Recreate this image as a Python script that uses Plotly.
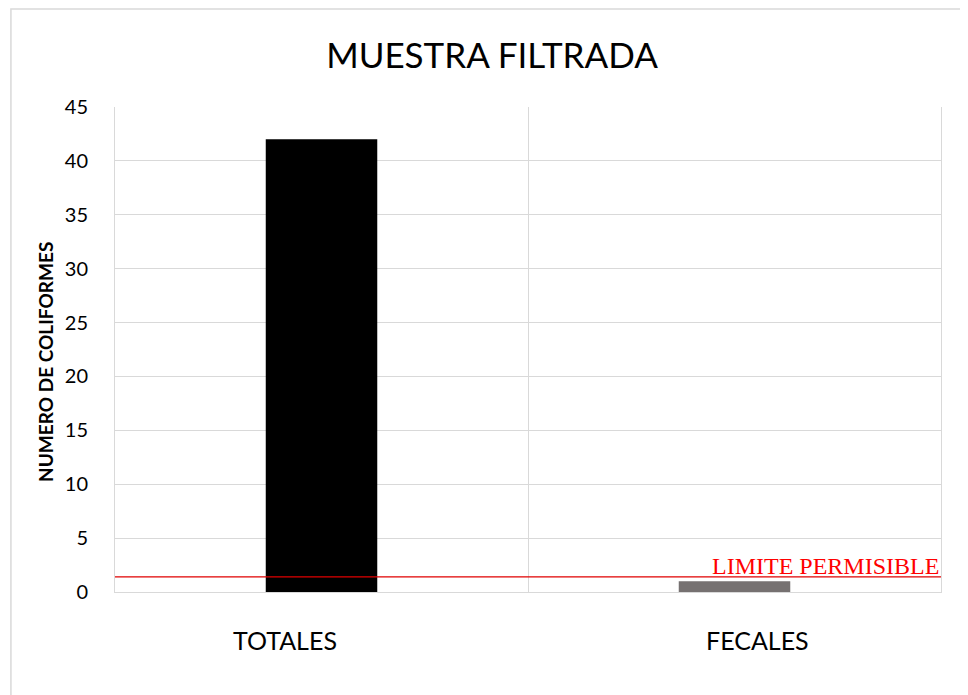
import plotly.graph_objects as go

categorias = ['TOTALES', 'FECALES']
coliformes = [42, 1]
colores = ['#000000', '#767171']
limite_permisible = 1.4
y_ticks = [0, 5, 10, 15, 20, 25, 30, 35, 40, 45]

# en el original las etiquetas no quedan centradas bajo las barras
desplaz_etiquetas = [-37, 23]

fig = go.Figure()
fig.add_trace(go.Bar(x=categorias, y=coliformes, marker=dict(color=colores, line=dict(width=0)),
                     width=0.27, showlegend=False))

for cat, dx in zip(categorias, desplaz_etiquetas):
    fig.add_annotation(xref='x', yref='paper', x=cat, y=-0.099, text=cat, showarrow=False,
                       xshift=dx, xanchor='center', yanchor='middle',
                       font=dict(family='Lato', size=25, color='#000000'))

# linea del limite permisible
fig.add_shape(type='line', xref='paper', yref='y', x0=0, x1=1,
              y0=limite_permisible, y1=limite_permisible,
              line=dict(color='#e00000', width=1.2))
fig.add_annotation(xref='paper', yref='y', x=1, y=limite_permisible, text='LIMITE PERMISIBLE',
                   showarrow=False, xanchor='right', yanchor='bottom', yshift=-4,
                   font=dict(family='Liberation Serif', size=24, color='#ff0000'))

# titulo del eje y
fig.add_annotation(xref='paper', yref='paper', x=-0.085, y=0.474, text='<b>NUMERO DE COLIFORMES</b>',
                   textangle=-90, showarrow=False, xanchor='center', yanchor='middle',
                   font=dict(family='Lato', size=19, color='#000000'))

# marco exterior del grafico
fig.add_shape(type='rect', xref='paper', yref='paper', x0=-0.126, x1=1.1, y0=-0.3, y1=1.202,
              line=dict(color='#d9d9d9', width=1.5), fillcolor='rgba(0,0,0,0)', layer='below')

fig.update_layout(
    width=968, height=695,
    margin=dict(l=107, r=35, t=99, b=111),
    paper_bgcolor='white', plot_bgcolor='white',
    title=dict(text='MUESTRA FILTRADA', x=0.5, xanchor='center', y=0.931, yanchor='middle',
               font=dict(family='Lato', size=35, color='#000000')),
    font=dict(family='Lato', color='#000000'),
)
fig.update_xaxes(type='category', range=[-0.5, 1.5], tickson='boundaries', showgrid=True,
                 gridcolor='#d9d9d9', gridwidth=1, ticks='', showline=True, linecolor='#d9d9d9',
                 showticklabels=False)
fig.update_yaxes(range=[0, 45], tickvals=y_ticks, showgrid=True, gridcolor='#d9d9d9', gridwidth=1,
                 zeroline=False, showline=True, mirror=True, linecolor='#d9d9d9', ticks='',
                 tickfont=dict(size=20, color='#000000'), ticklabelstandoff=22)

fig.write_html('out.html')
